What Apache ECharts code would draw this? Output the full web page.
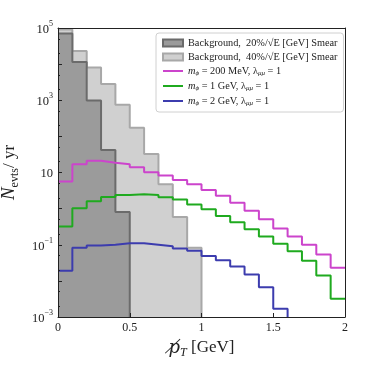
<!DOCTYPE html>
<html>
<head>
<meta charset="utf-8">
<script src="https://cdn.jsdelivr.net/npm/echarts@6/dist/echarts.min.js"></script>
<style>
  html, body { margin: 0; padding: 0; background: #fff; }
  #chart { width: 374px; height: 374px; }
</style>
</head>
<body>
<div id="chart"></div>
<script>
// bins of 0.1 GeV starting at 0
var BIN_WIDTH = 0.1
var Y_MIN = 1e-3
var Y_MAX = 1e5

var bg20 = [7e4, 1.15e4, 980, 42, 0.81]
var bg40 = [9.1e4, 2.3e4, 8.1e3, 2.8e3, 750, 174, 32.5, 4.7, 0.59, 0.083]
var sig200MeV = [5.6, 17, 21, 18.7, 17, 13.9, 10.2, 8.3, 6.2, 4.7, 3.3, 2.27, 1.45, 0.87, 0.51, 0.28, 0.17, 0.10, 0.054, 0.023]
var sig1GeV = [0.32, 1.03, 1.6, 2.1, 2.4, 2.5, 2.4, 2.05, 1.8, 1.3, 0.96, 0.62, 0.42, 0.27, 0.17, 0.107, 0.066, 0.036, 0.014, 0.0032]
var sig2GeV = [0.019, 0.083, 0.096, 0.10, 0.11, 0.11, 0.10, 0.091, 0.079, 0.068, 0.049, 0.037, 0.025, 0.015, 0.0067, 0.0017]

var yLabelTicks = [1e-3, 1e-1, 10, 1e3, 1e5]
var yMajorTicks = [1e-3, 1e-2, 1e-1, 1, 10, 1e2, 1e3, 1e4, 1e5]
var yMinorSubs = [2, 5]

var serif = "'Liberation Serif', 'DejaVu Serif', serif"

// step outline from bin values: [edge, value] points
function stepPoints(values, dropToFloor) {
  var pts = values.map(function (v, i) {
    return [Math.round(i * BIN_WIDTH * 10) / 10, v]
  })
  var end = Math.round(values.length * BIN_WIDTH * 10) / 10
  pts.push([end, values[values.length - 1]])
  if (dropToFloor) pts.push([end, Y_MIN])
  return pts
}

function minorTicks() {
  var out = []
  yMajorTicks.forEach(function (d) {
    yMinorSubs.forEach(function (s) {
      if (d * s < Y_MAX) out.push(d * s)
    })
  })
  return out
}

var legendNames = {
  bg20: '{t|Background,  20%/√E [GeV] Smear}',
  bg40: '{t|Background,  40%/√E [GeV] Smear}',
  s200: '{i|m}{s|ϕ}{t| = 200 MeV, λ}{s|μμ}{t| = 1}',
  s1: '{i|m}{s|ϕ}{t| = 1 GeV, λ}{s|μμ}{t| = 1}',
  s2: '{i|m}{s|ϕ}{t| = 2 GeV, λ}{s|μμ}{t| = 1}'
}

function histSeries(name, values, fill, edge) {
  return {
    name: name,
    type: 'line',
    step: 'end',
    symbol: 'none',
    data: stepPoints(values, true),
    lineStyle: { color: edge, width: 2 },
    itemStyle: { color: fill, borderColor: edge, borderWidth: 1.5 },
    areaStyle: { color: fill, opacity: 1, origin: 'start' },
    animation: false
  }
}

function lineSeries(name, values, color, drop) {
  return {
    name: name,
    type: 'line',
    step: 'end',
    symbol: 'none',
    data: stepPoints(values, drop),
    lineStyle: { color: color, width: 2 },
    itemStyle: { color: color },
    animation: false
  }
}

var chart = echarts.init(document.getElementById('chart'))

chart.setOption({
  backgroundColor: '#fff',
  grid: { left: 58, right: 29, top: 28, bottom: 57, outerBoundsMode: 'none', containLabel: false },
  legend: {
    left: 156,
    top: 33,
    orient: 'vertical',
    itemWidth: 20,
    itemHeight: 7,
    itemGap: 4,
    padding: [5, 6],
    backgroundColor: '#fff',
    borderColor: '#d0d0d0',
    borderWidth: 1,
    borderRadius: 3,
    data: [
      { name: 'bg20', icon: 'rect' },
      { name: 'bg40', icon: 'rect' },
      { name: 's200', itemStyle: { opacity: 0 } },
      { name: 's1', itemStyle: { opacity: 0 } },
      { name: 's2', itemStyle: { opacity: 0 } }
    ],
    formatter: function (name) { return legendNames[name] },
    textStyle: {
      fontFamily: serif,
      color: '#222',
      rich: {
        t: { fontSize: 10.3, fontFamily: serif, lineHeight: 12, verticalAlign: 'middle' },
        i: { fontSize: 10.3, fontFamily: serif, fontStyle: 'italic', lineHeight: 12, verticalAlign: 'middle' },
        s: { fontSize: 7, fontFamily: serif, fontStyle: 'italic', lineHeight: 12, verticalAlign: 'bottom' }
      }
    }
  },
  xAxis: [{
    type: 'value',
    min: 0,
    max: 2,
    interval: 0.5,
    z: 10,
    axisLine: { show: true, onZero: false, lineStyle: { color: '#222', width: 1 } },
    axisTick: { inside: true, length: 4, lineStyle: { color: '#222' } },
    splitLine: { show: false },
    axisLabel: { color: '#222', fontFamily: serif, fontSize: 12, margin: 5 },
    name: '{p|p̸}{s|T}{t| [GeV]}',
    nameLocation: 'middle',
    nameGap: 11,
    nameTextStyle: {
      rich: {
        p: { fontSize: 18, fontFamily: "'DejaVu Serif', serif", fontStyle: 'italic', color: '#222', lineHeight: 22, verticalAlign: 'middle' },
        s: { fontSize: 12, fontFamily: serif, fontStyle: 'italic', color: '#222', lineHeight: 22, verticalAlign: 'bottom' },
        t: { fontSize: 17, fontFamily: serif, color: '#222', lineHeight: 22, verticalAlign: 'middle' }
      }
    }
  }, {
    type: 'value',
    position: 'top',
    min: 0,
    max: 2,
    z: 10,
    axisLine: { show: true, onZero: false, lineStyle: { color: '#222', width: 1 } },
    axisTick: { show: false },
    axisLabel: { show: false },
    splitLine: { show: false }
  }],
  yAxis: [{
    type: 'log',
    logBase: 10,
    min: Y_MIN,
    max: Y_MAX,
    z: 10,
    axisLine: { show: true, onZero: false, lineStyle: { color: '#222', width: 1 } },
    axisTick: { inside: true, length: 4, customValues: yMajorTicks, lineStyle: { color: '#222' } },
    splitLine: { show: false },
    axisLabel: {
      customValues: yLabelTicks,
      margin: 5,
      formatter: function (v) {
        var e = Math.round(Math.log10(v))
        if (e === 1) return '{b|10}'
        return '{b|10}{e|' + String(e).replace('-', '−') + '}'
      },
      rich: {
        b: { fontSize: 12.5, fontFamily: serif, color: '#222', lineHeight: 16, verticalAlign: 'bottom' },
        e: { fontSize: 8, fontFamily: serif, color: '#222', lineHeight: 16, verticalAlign: 'top' }
      }
    },
    name: '{n|N}{s|evts}{t|/ yr}',
    nameLocation: 'middle',
    nameRotate: 90,
    nameGap: 27,
    nameTextStyle: {
      rich: {
        n: { fontSize: 19, fontFamily: serif, fontStyle: 'italic', color: '#222', lineHeight: 24, verticalAlign: 'middle' },
        s: { fontSize: 12, fontFamily: serif, color: '#222', lineHeight: 24, verticalAlign: 'bottom' },
        t: { fontSize: 17, fontFamily: serif, color: '#222', lineHeight: 24, verticalAlign: 'middle' }
      }
    }
  }, {
    type: 'log',
    logBase: 10,
    min: Y_MIN,
    max: Y_MAX,
    position: 'left',
    z: 10,
    axisLine: { show: false },
    axisTick: { inside: true, length: 2, customValues: minorTicks(), lineStyle: { color: '#222' } },
    axisLabel: { show: false },
    splitLine: { show: false }
  }, {
    type: 'log',
    logBase: 10,
    min: Y_MIN,
    max: Y_MAX,
    position: 'right',
    z: 10,
    axisLine: { show: true, onZero: false, lineStyle: { color: '#222', width: 1 } },
    axisTick: { show: false },
    axisLabel: { show: false },
    splitLine: { show: false }
  }],
  series: [
    histSeries('bg40', bg40, '#d0d0d0', '#a8a8a8'),
    histSeries('bg20', bg20, '#9b9b9b', '#6b6b6b'),
    lineSeries('s200', sig200MeV, '#cc44cc', false),
    lineSeries('s1', sig1GeV, '#1faa1f', false),
    lineSeries('s2', sig2GeV, '#3c3cae', true)
  ]
})
</script>
</body>
</html>
